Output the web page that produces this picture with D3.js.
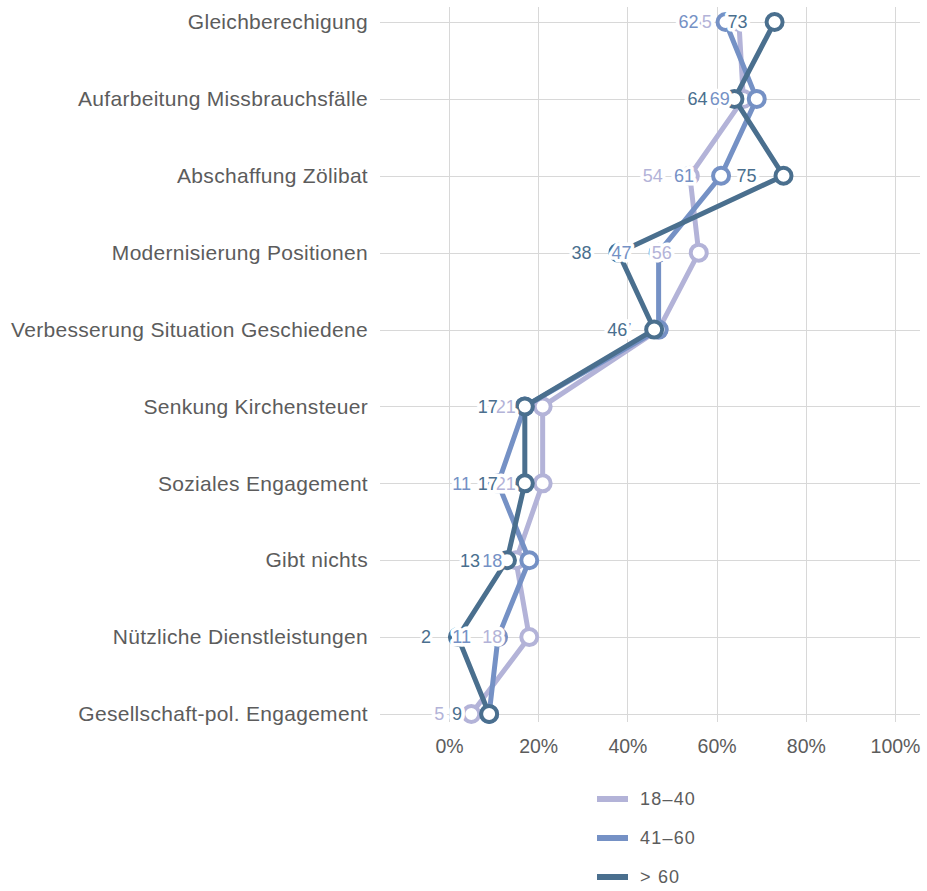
<!DOCTYPE html>
<html>
<head>
<meta charset="utf-8">
<script src="https://cdn.jsdelivr.net/npm/d3@7"></script>
<style>
  html, body { margin: 0; padding: 0; background: #fff; }
  svg { display: block; font-family: "Liberation Sans", Arial, sans-serif; }
</style>
</head>
<body>
<svg id="chart" width="927" height="891"></svg>
<script>
// Categories (top to bottom)
const categories = [
  "Gleichberechigung",
  "Aufarbeitung Missbrauchsfälle",
  "Abschaffung Zölibat",
  "Modernisierung Positionen",
  "Verbesserung Situation Geschiedene",
  "Senkung Kirchensteuer",
  "Soziales Engagement",
  "Gibt nichts",
  "Nützliche Dienstleistungen",
  "Gesellschaft-pol. Engagement"
];

// Share in percent per age group
const age18to40 = [65, 66, 54, 56, 47, 21, 21, 15, 18, 5];
const age41to60 = [62, 69, 61, 47, 47, 17, 11, 18, 11, 9];
const ageOver60 = [73, 64, 75, 38, 46, 17, 17, 13, 2, 9];

const seriesNames = ["18–40", "41–60", "> 60"];
const seriesColors = ["#b3b3d8", "#7591c5", "#4a6f8e"];
const xTicks = [0, 20, 40, 60, 80, 100];

const series = [age18to40, age41to60, ageOver60].map((vals, i) => ({
  name: seriesNames[i],
  color: seriesColors[i],
  values: vals.map((v, j) => ({ cat: categories[j], value: v }))
}));

const svg = d3.select("#chart");

const x = d3.scaleLinear().domain([0, 100]).range([449, 895]);
const y = d3.scalePoint().domain(categories).range([22, 714]);

const gridLeft = 380, gridRight = 920, gridTop = 7, gridBottom = 722;

// Grid
const grid = svg.append("g").attr("stroke", "#d8d8d8").attr("stroke-width", 1);
grid.selectAll("line.v").data(xTicks).join("line")
  .attr("class", "v")
  .attr("x1", d => Math.round(x(d)) + 0.5).attr("x2", d => Math.round(x(d)) + 0.5)
  .attr("y1", gridTop).attr("y2", gridBottom);
grid.selectAll("line.h").data(categories).join("line")
  .attr("class", "h")
  .attr("x1", gridLeft).attr("x2", gridRight)
  .attr("y1", d => Math.round(y(d)) + 0.5).attr("y2", d => Math.round(y(d)) + 0.5);

// Category labels
const yAxis = d3.axisLeft(y).tickSize(0).tickPadding(0);
const yg = svg.append("g").attr("transform", `translate(${368},0)`).call(yAxis);
yg.select(".domain").remove();
yg.selectAll("text")
  .attr("fill", "#5c5c5c")
  .attr("font-size", 21)
  .attr("letter-spacing", "0.3px")
  .attr("font-family", "\"Liberation Sans\", Arial, sans-serif");

// X axis labels
const xAxis = d3.axisBottom(x).tickValues(xTicks).tickSize(0).tickPadding(0)
  .tickFormat(d => d + "%");
const xg = svg.append("g").attr("transform", `translate(0,${739})`).call(xAxis);
xg.select(".domain").remove();
xg.selectAll("text")
  .attr("fill", "#5c5c5c")
  .attr("font-size", 19.5)
  .attr("font-family", "\"Liberation Sans\", Arial, sans-serif");

// Lines and points per age group
const line = d3.line().x(d => x(d.value)).y(d => y(d.cat));
const groups = svg.append("g").selectAll("g.series").data(series).join("g")
  .attr("class", "series");
groups.append("path")
  .attr("d", d => line(d.values))
  .attr("fill", "none")
  .attr("stroke", d => d.color)
  .attr("stroke-width", 5)
  .attr("stroke-linejoin", "round");
groups.each(function (s) {
  d3.select(this).selectAll("circle").data(s.values).join("circle")
    .attr("cx", d => x(d.value))
    .attr("cy", d => y(d.cat))
    .attr("r", 8)
    .attr("fill", "#fff")
    .attr("stroke", s.color)
    .attr("stroke-width", 4);
});

// Value labels with white halo
const labels = svg.append("g");
series.forEach(s => {
  labels.append("g").selectAll("text").data(s.values).join("text")
    .attr("x", d => x(d.value) - 27)
    .attr("y", d => y(d.cat))
    .attr("dy", "0.35em")
    .attr("text-anchor", "end")
    .attr("font-size", 18)
    .attr("fill", s.color)
    .attr("stroke", "#fff")
    .attr("stroke-width", 7)
    .attr("stroke-linejoin", "round")
    .attr("paint-order", "stroke")
    .text(d => d.value);
});

// Legend
const legend = svg.append("g").attr("transform", "translate(597,799)");
const li = legend.selectAll("g").data(series).join("g")
  .attr("transform", (d, i) => `translate(0,${i * 39})`);
li.append("rect")
  .attr("x", 0).attr("y", -3).attr("width", 31).attr("height", 6)
  .attr("fill", d => d.color);
li.append("text")
  .attr("x", 43).attr("y", 0).attr("dy", "0.36em")
  .attr("font-size", 18)
  .attr("letter-spacing", "1.2px")
  .attr("fill", "#5c5c5c")
  .text(d => d.name);
</script>
</body>
</html>
